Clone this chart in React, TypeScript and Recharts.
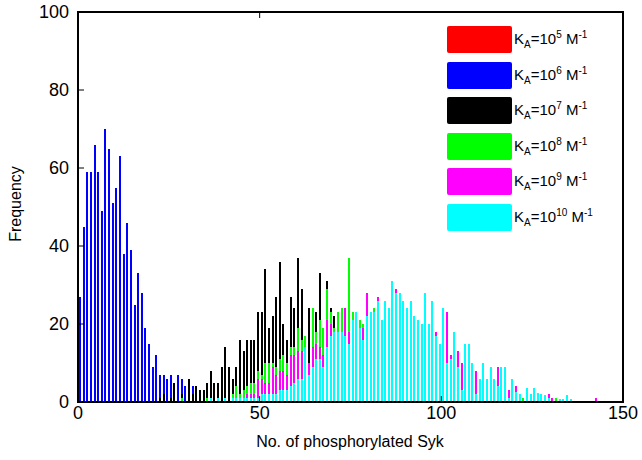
import React from 'react';
import { BarChart, Bar, XAxis, YAxis, Legend } from 'recharts';

// ---- data (histogram counts per unit bin; bin k covers [k, k+1)) ----
const BIN_COUNT = 150;
const xTicks = [0, 50, 100, 150];
const yTicks = [0, 20, 40, 60, 80, 100];

const redStart = 0;
const redCounts = [24, 41, 55, 56, 60, 57, 47, 62, 60, 49, 52, 58, 36, 43, 36, 24, 30, 26, 18, 14, 8, 11, 6, 6, 5, 6, 3, 6, 5, 3, 2, 3];

const blueStart = 0;
const blueCounts = [27, 45, 59, 59, 66, 59, 49, 70, 65, 51, 55, 63, 38, 46, 39, 25, 33, 28, 19, 15, 9, 12, 7, 7, 6, 7, 4, 7, 6, 4, 5, 4, 2, 1];

const blackStart = 22;
const blackCounts = [1, 2, 0, 1, 5, 0, 2, 0, 6, 2, 4, 3, 3, 5, 8, 5, 5, 9, 14, 9, 6, 9, 16, 13, 16, 16, 16, 23, 23, 34, 19, 22, 27, 36, 20, 16, 27, 24, 37, 29, 14, 24, 18, 23, 33, 16, 31, 24, 22, 15, 12, 10, 8, 5];

const greenStart = 28;
const greenCounts = [1, 0, 0, 0, 0, 0, 0, 1, 1, 0, 1, 0, 1, 0, 2, 4, 2, 3, 4, 5, 5, 8, 7, 10, 10, 10, 9, 11, 12, 10, 14, 14, 19, 16, 17, 9, 24, 18, 21, 19, 29, 23, 19, 23, 24, 24, 37, 23, 20, 21, 20, 18, 20, 24, 20, 15, 18, 15, 14, 12, 10, 8, 7, 6, 5, 4, 4, 3, 3, 2, 2, 1, 1, 1, 1, 0, 0, 0, 0, 0, 0, 0, 0, 0, 0, 0, 0, 0, 0, 0, 0, 0, 0, 0, 1, 0, 0, 0, 0, 0, 0, 0, 0, 1];

const magentaStart = 40;
const magentaCounts = [1, 0, 1, 0, 1, 1, 2, 2, 2, 6, 6, 5, 5, 9, 7, 8, 8, 7, 12, 12, 13, 13, 12, 10, 14, 15, 14, 12, 21, 20, 18, 17, 18, 24, 18, 20, 21, 18, 19, 28, 21, 22, 27, 20, 24, 22, 27, 29, 25, 24, 22, 23, 20, 19, 18, 24, 18, 22, 18, 14, 20, 23, 12, 15, 13, 10, 12, 12, 8, 8, 5, 8, 5, 6, 5, 9, 7, 7, 3, 4, 4, 1, 0, 2, 0, 2, 0, 0, 0, 2, 1, 0, 0, 0, 0, 0, 0, 0, 0, 0, 0, 0, 1];

const cyanStart = 36;
const cyanCounts = [1, 0, 1, 0, 1, 0, 1, 1, 1, 1, 1, 1, 1, 1, 2, 2, 2, 2, 2, 3, 3, 3, 4, 5, 6, 6, 14, 7, 9, 11, 11, 9, 14, 17, 18, 18, 18, 17, 15, 21, 23, 19, 16, 22, 23, 23, 26, 21, 26, 24, 31, 28, 28, 26, 24, 26, 22, 21, 20, 28, 20, 26, 17, 15, 24, 10, 11, 18, 9, 3, 15, 15, 10, 2, 6, 10, 6, 9, 6, 4, 9, 9, 1, 6, 2.5, 2, 0, 3.6, 2, 3.6, 2.3, 2, 1.7, 1, 0, 0, 0.8, 0.8, 1.9, 0.8];

const seriesDefs = [
  { key: 'red', start: redStart, counts: redCounts, color: '#ff0000', exp: '5' },
  { key: 'blue', start: blueStart, counts: blueCounts, color: '#0000ff', exp: '6' },
  { key: 'black', start: blackStart, counts: blackCounts, color: '#000000', exp: '7' },
  { key: 'green', start: greenStart, counts: greenCounts, color: '#00ff00', exp: '8' },
  { key: 'magenta', start: magentaStart, counts: magentaCounts, color: '#ff00ff', exp: '9' },
  { key: 'cyan', start: cyanStart, counts: cyanCounts, color: '#00ffff', exp: '10' },
];

const rows = Array.from({ length: BIN_COUNT }, (_, k) => {
  const row: Record<string, number | null> = { bin: k + 0.5 };
  seriesDefs.forEach((s) => {
    const v = s.counts[k - s.start];
    row[s.key] = v && v > 0 ? v : null;
  });
  return row;
});

// ---- layout / style ----
const FONT = '"Liberation Sans", Arial, Helvetica, sans-serif';
const PLOT_LEFT = 78;
const PLOT_RIGHT = 623;
const PLOT_TOP = 12;
const PLOT_BOTTOM = 402;
const TICK_LEN = 6;
const TICK_FONT = 18;

const LeftTick = (p: any) => (
  <g>
    <line x1={PLOT_LEFT} x2={PLOT_LEFT + TICK_LEN} y1={p.y} y2={p.y} stroke="#000" strokeWidth={1} />
    <text x={69} y={p.y} dy="0.36em" textAnchor="end" fontSize={TICK_FONT} fontFamily={FONT} fill="#000">
      {p.payload.value}
    </text>
  </g>
);

const RightTick = (p: any) => (
  <line x1={PLOT_RIGHT - TICK_LEN} x2={PLOT_RIGHT} y1={p.y} y2={p.y} stroke="#000" strokeWidth={1} />
);

const BottomTick = (p: any) => (
  <g>
    <line x1={p.x} x2={p.x} y1={PLOT_BOTTOM} y2={PLOT_BOTTOM - TICK_LEN} stroke="#000" strokeWidth={1} />
    <text x={p.x} y={PLOT_BOTTOM + 3} dy="0.75em" textAnchor="middle" fontSize={TICK_FONT} fontFamily={FONT} fill="#000">
      {p.payload.value}
    </text>
  </g>
);

const TopTick = (p: any) => (
  <line x1={p.x} x2={p.x} y1={PLOT_TOP} y2={PLOT_TOP + TICK_LEN} stroke="#000" strokeWidth={1} />
);

const YTitle = () => {
  const cx = 21;
  const cy = 204;
  return (
    <text x={cx} y={cy} transform={`rotate(-90 ${cx} ${cy})`} textAnchor="middle" fontSize={16} fontFamily={FONT} fill="#000">
      Frequency
    </text>
  );
};

const XTitle = () => (
  <text x={350} y={447} textAnchor="middle" fontSize={16} fontFamily={FONT} fill="#000">
    No. of phosphorylated Syk
  </text>
);

const LegendBox = () => (
  <div style={{ background: '#fff', width: 180, height: 227, paddingTop: 13, paddingLeft: 10, boxSizing: 'border-box', fontFamily: FONT }}>
    {seriesDefs.map((s) => (
      <div key={s.key} style={{ display: 'flex', alignItems: 'center', height: 27, marginBottom: 8.5 }}>
        <div style={{ width: 65, height: 27, background: s.color, marginRight: 2, borderRadius: 2 }} />
        <span style={{ fontSize: 15, color: '#000', whiteSpace: 'nowrap', lineHeight: '27px' }}>
          K<sub style={{ fontSize: 10, verticalAlign: '-4px' }}>A</sub>=10<sup style={{ fontSize: 10, verticalAlign: '6px' }}>{s.exp}</sup>
          {' '}M<sup style={{ fontSize: 10, verticalAlign: '6px' }}>-1</sup>
        </span>
      </div>
    ))}
  </div>
);

export default function App() {
  return (
    <div style={{ position: 'absolute', left: 0, top: 0, width: 642, height: 460, background: '#fff' }}>
      <BarChart
        width={642}
        height={460}
        data={rows}
        barGap={-2}
        margin={{ top: PLOT_TOP - 10, right: 642 - PLOT_RIGHT - 10, bottom: 460 - PLOT_BOTTOM - 30, left: PLOT_LEFT - 60 }}
      >
        <XAxis
          type="number"
          dataKey="bin"
          domain={[0, 150]}
          ticks={xTicks}
          height={30}
          stroke="#000"
          axisLine={{ stroke: '#000', strokeWidth: 1.5 }}
          tickLine={false}
          tick={BottomTick}
          interval={0}
          label={XTitle}
        />
        <XAxis
          xAxisId="top"
          orientation="top"
          type="number"
          dataKey="bin"
          domain={[0, 150]}
          ticks={xTicks}
          height={10}
          stroke="#000"
          axisLine={{ stroke: '#000', strokeWidth: 1.5 }}
          tickLine={false}
          tick={TopTick}
          interval={0}
        />
        <YAxis
          type="number"
          domain={[0, 100]}
          ticks={yTicks}
          width={60}
          stroke="#000"
          axisLine={{ stroke: '#000', strokeWidth: 1.5 }}
          tickLine={false}
          tick={LeftTick}
          interval={0}
          label={YTitle}
        />
        <YAxis
          yAxisId="right"
          orientation="right"
          type="number"
          domain={[0, 100]}
          ticks={yTicks}
          width={10}
          stroke="#000"
          axisLine={{ stroke: '#000', strokeWidth: 1.5 }}
          tickLine={false}
          tick={RightTick}
          interval={0}
        />
        {seriesDefs.map((s) => (
          <Bar key={s.key} dataKey={s.key} fill={s.color} barSize={2} shapeRendering="crispEdges" isAnimationActive={false} />
        ))}
        <Legend
          layout="vertical"
          align="center"
          verticalAlign="middle"
          content={LegendBox}
          wrapperStyle={{ left: 437, top: 13, width: 180, height: 227 }}
        />
      </BarChart>
      <div
        style={{
          position: 'absolute',
          left: PLOT_LEFT - 1,
          top: PLOT_TOP - 1,
          width: PLOT_RIGHT - PLOT_LEFT + 2,
          height: PLOT_BOTTOM - PLOT_TOP + 2,
          border: '2px solid #000',
          boxSizing: 'border-box',
          pointerEvents: 'none',
        }}
      />
    </div>
  );
}
